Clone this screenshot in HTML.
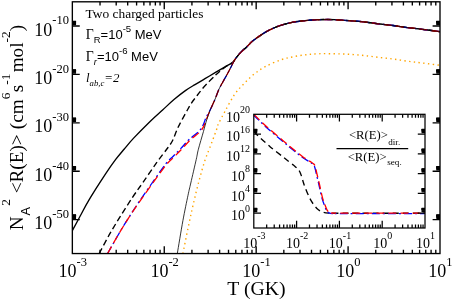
<!DOCTYPE html>
<html><head><meta charset="utf-8"><title>plot</title>
<style>html,body{margin:0;padding:0;background:#fff;}body{width:452px;height:299px;overflow:hidden;font-family:"Liberation Serif",serif;}svg{display:block;will-change:transform;opacity:0.999;}</style>
</head><body>
<svg width="452" height="299" viewBox="0 0 452 299">
<rect width="100%" height="100%" fill="#fff"/>
<defs><clipPath id="cm"><rect x="72.35" y="1.80" width="367.65" height="251.75"/></clipPath>
<clipPath id="ci"><rect x="253.80" y="114.30" width="171.20" height="113.70"/></clipPath></defs>
<g clip-path="url(#cm)" fill="none" stroke-linejoin="round">
<path d="M72.35 230.60 C73.66 228.17 77.39 221.17 80.20 216.00 C83.01 210.83 84.92 206.70 89.20 199.60 C93.48 192.50 101.45 180.13 105.90 173.40 C110.35 166.67 112.83 163.27 115.90 159.20 C118.97 155.13 121.38 152.47 124.30 149.00 C127.22 145.53 129.10 143.00 133.40 138.40 C137.70 133.80 145.23 126.13 150.10 121.40 C154.97 116.67 158.62 113.65 162.60 110.00 C166.58 106.35 170.20 102.73 174.00 99.50 C177.80 96.27 181.90 93.08 185.40 90.60 C188.90 88.12 191.73 86.58 195.00 84.60 C198.27 82.62 201.65 80.68 205.00 78.70 C208.35 76.72 211.77 74.67 215.10 72.70 C218.43 70.73 222.08 68.60 225.00 66.90 C227.92 65.20 230.83 63.88 232.60 62.50 C234.37 61.12 234.28 60.25 235.60 58.60 C236.92 56.95 238.65 54.55 240.50 52.60 C242.35 50.65 244.78 48.73 246.70 46.90 C248.62 45.07 250.05 43.28 252.00 41.60 C253.95 39.92 256.07 38.43 258.40 36.80 C260.73 35.17 263.23 33.35 266.00 31.80 C268.77 30.25 272.17 28.68 275.00 27.50 C277.83 26.32 280.17 25.55 283.00 24.70 C285.83 23.85 289.17 22.98 292.00 22.40 C294.83 21.82 297.00 21.57 300.00 21.20 C303.00 20.83 306.83 20.45 310.00 20.20 C313.17 19.95 316.17 19.82 319.00 19.70 C321.83 19.58 324.40 19.50 327.00 19.50 C329.60 19.50 330.90 19.50 334.60 19.70 C338.30 19.90 344.33 20.33 349.20 20.70 C354.07 21.07 358.93 21.38 363.80 21.90 C368.67 22.42 373.53 23.20 378.40 23.80 C383.27 24.40 388.13 24.87 393.00 25.50 C397.87 26.13 402.73 26.97 407.60 27.60 C412.47 28.23 416.80 28.62 422.20 29.30 C427.60 29.98 437.03 31.30 440.00 31.70" stroke="#000" stroke-width="1.35"/>
<path d="M99.20 253.55 C100.88 250.41 105.83 240.81 109.30 234.70 C112.77 228.59 116.18 223.05 120.00 216.90 C123.82 210.75 128.43 203.45 132.20 197.80 C135.97 192.15 138.62 188.73 142.60 183.00 C146.58 177.27 151.87 169.32 156.10 163.40 C160.33 157.48 165.25 151.32 168.00 147.50 C170.75 143.68 170.85 144.00 172.60 140.50 C174.35 137.00 176.03 131.58 178.50 126.50 C180.97 121.42 185.28 113.85 187.40 110.00 C189.52 106.15 189.68 105.68 191.20 103.40 C192.72 101.12 194.62 98.77 196.50 96.30 C198.38 93.83 200.42 91.05 202.50 88.60 C204.58 86.15 206.82 83.85 209.00 81.60 C211.18 79.35 213.83 76.78 215.60 75.10 C217.37 73.42 218.03 72.82 219.60 71.50 C221.17 70.18 222.83 68.70 225.00 67.20 C227.17 65.70 230.83 63.93 232.60 62.50 C234.37 61.07 234.28 60.25 235.60 58.60 C236.92 56.95 238.65 54.55 240.50 52.60 C242.35 50.65 244.78 48.73 246.70 46.90 C248.62 45.07 250.05 43.28 252.00 41.60 C253.95 39.92 256.07 38.43 258.40 36.80 C260.73 35.17 263.23 33.35 266.00 31.80 C268.77 30.25 272.17 28.68 275.00 27.50 C277.83 26.32 280.17 25.55 283.00 24.70 C285.83 23.85 289.17 22.98 292.00 22.40 C294.83 21.82 297.00 21.57 300.00 21.20 C303.00 20.83 306.83 20.45 310.00 20.20 C313.17 19.95 316.17 19.82 319.00 19.70 C321.83 19.58 324.40 19.50 327.00 19.50 C329.60 19.50 330.90 19.50 334.60 19.70 C338.30 19.90 344.33 20.33 349.20 20.70 C354.07 21.07 358.93 21.38 363.80 21.90 C368.67 22.42 373.53 23.20 378.40 23.80 C383.27 24.40 388.13 24.87 393.00 25.50 C397.87 26.13 402.73 26.97 407.60 27.60 C412.47 28.23 416.80 28.62 422.20 29.30 C427.60 29.98 437.03 31.30 440.00 31.70" stroke="#000" stroke-width="1.35" stroke-dasharray="6 3.3"/>
<path d="M182.90 253.55 C183.75 249.34 186.32 236.33 188.00 228.30 C189.68 220.28 191.23 213.03 193.00 205.40 C194.77 197.77 196.63 189.92 198.60 182.50 C200.57 175.08 202.63 167.48 204.80 160.90 C206.97 154.32 209.53 148.52 211.60 143.00 C213.67 137.48 216.03 131.03 217.20 127.80 C218.37 124.57 217.28 126.38 218.60 123.60 C219.92 120.82 222.45 115.93 225.10 111.10 C227.75 106.27 231.42 99.10 234.50 94.60 C237.58 90.10 240.42 87.45 243.60 84.10 C246.78 80.75 250.00 77.40 253.60 74.50 C257.20 71.60 260.65 69.15 265.20 66.70 C269.75 64.25 276.17 61.47 280.90 59.80 C285.63 58.13 289.37 57.55 293.60 56.70 C297.83 55.85 302.07 55.20 306.30 54.70 C310.53 54.20 314.28 53.85 319.00 53.70 C323.72 53.55 329.57 53.70 334.60 53.80 C339.63 53.90 344.33 54.02 349.20 54.30 C354.07 54.58 358.93 55.00 363.80 55.50 C368.67 56.00 373.53 56.72 378.40 57.30 C383.27 57.88 388.13 58.35 393.00 59.00 C397.87 59.65 402.73 60.53 407.60 61.20 C412.47 61.87 416.80 62.32 422.20 63.00 C427.60 63.68 437.03 64.92 440.00 65.30" stroke="#ffa500" stroke-width="1.4" stroke-dasharray="1.4 3.35"/>
<path d="M107.60 253.55 C109.38 250.41 114.83 240.62 118.30 234.70 C121.77 228.78 124.93 223.60 128.44 218.04 C131.96 212.49 135.43 207.20 139.37 201.37 C143.30 195.54 147.68 189.28 152.06 183.06 C156.44 176.84 162.11 168.51 165.64 164.04 C169.17 159.57 170.67 158.82 173.22 156.22 C175.76 153.61 178.22 151.22 180.90 148.40 C183.58 145.58 186.23 142.22 189.30 139.30 C192.37 136.38 196.93 133.42 199.30 130.90 C201.67 128.38 202.38 126.42 203.50 124.20 C204.62 121.98 204.85 120.05 206.00 117.60 C207.15 115.15 208.88 112.57 210.40 109.50 C211.92 106.43 213.70 102.53 215.10 99.20 C216.50 95.87 217.48 92.42 218.80 89.50 C220.12 86.58 221.53 84.37 223.00 81.70 C224.47 79.03 226.30 75.88 227.60 73.50 C228.90 71.12 229.57 69.75 230.80 67.40 C232.03 65.05 233.38 61.87 235.00 59.40 C236.62 56.93 238.55 54.68 240.50 52.60 C242.45 50.52 244.78 48.73 246.70 46.90 C248.62 45.07 250.05 43.28 252.00 41.60 C253.95 39.92 256.07 38.43 258.40 36.80 C260.73 35.17 263.23 33.35 266.00 31.80 C268.77 30.25 272.17 28.68 275.00 27.50 C277.83 26.32 280.17 25.55 283.00 24.70 C285.83 23.85 289.17 22.98 292.00 22.40 C294.83 21.82 297.00 21.57 300.00 21.20 C303.00 20.83 306.83 20.45 310.00 20.20 C313.17 19.95 316.17 19.82 319.00 19.70 C321.83 19.58 324.40 19.50 327.00 19.50 C329.60 19.50 330.90 19.50 334.60 19.70 C338.30 19.90 344.33 20.33 349.20 20.70 C354.07 21.07 358.93 21.38 363.80 21.90 C368.67 22.42 373.53 23.20 378.40 23.80 C383.27 24.40 388.13 24.87 393.00 25.50 C397.87 26.13 402.73 26.97 407.60 27.60 C412.47 28.23 416.80 28.62 422.20 29.30 C427.60 29.98 437.03 31.30 440.00 31.70" stroke="#0000ff" stroke-width="1.3" stroke-dasharray="8 3 2 3"/>
<path d="M107.60 253.55 C109.38 250.41 114.82 240.61 118.30 234.70 C121.78 228.79 124.95 223.62 128.50 218.10 C132.05 212.58 135.60 207.37 139.60 201.60 C143.60 195.83 148.05 189.65 152.50 183.50 C156.95 177.35 162.72 169.12 166.30 164.70 C169.88 160.28 171.43 159.58 174.00 157.00 C176.57 154.42 179.02 152.02 181.70 149.20 C184.38 146.38 187.03 143.02 190.10 140.10 C193.17 137.18 197.73 134.22 200.10 131.70 C202.47 129.18 203.18 127.22 204.30 125.00 C205.42 122.78 205.78 120.98 206.80 118.40 C207.82 115.82 209.02 112.70 210.40 109.50 C211.78 106.30 213.70 102.53 215.10 99.20 C216.50 95.87 217.48 92.42 218.80 89.50 C220.12 86.58 221.53 84.37 223.00 81.70 C224.47 79.03 226.30 75.88 227.60 73.50 C228.90 71.12 229.57 69.75 230.80 67.40 C232.03 65.05 233.38 61.87 235.00 59.40 C236.62 56.93 238.55 54.68 240.50 52.60 C242.45 50.52 244.78 48.73 246.70 46.90 C248.62 45.07 250.05 43.28 252.00 41.60 C253.95 39.92 256.07 38.43 258.40 36.80 C260.73 35.17 263.23 33.35 266.00 31.80 C268.77 30.25 272.17 28.68 275.00 27.50 C277.83 26.32 280.17 25.55 283.00 24.70 C285.83 23.85 289.17 22.98 292.00 22.40 C294.83 21.82 297.00 21.57 300.00 21.20 C303.00 20.83 306.83 20.45 310.00 20.20 C313.17 19.95 316.17 19.82 319.00 19.70 C321.83 19.58 324.40 19.50 327.00 19.50 C329.60 19.50 330.90 19.50 334.60 19.70 C338.30 19.90 344.33 20.33 349.20 20.70 C354.07 21.07 358.93 21.38 363.80 21.90 C368.67 22.42 373.53 23.20 378.40 23.80 C383.27 24.40 388.13 24.87 393.00 25.50 C397.87 26.13 402.73 26.97 407.60 27.60 C412.47 28.23 416.80 28.62 422.20 29.30 C427.60 29.98 437.03 31.30 440.00 31.70" stroke="#ff0000" stroke-width="1.3" stroke-dasharray="8 4"/>
<path d="M177.30 253.55 C178.23 248.08 181.12 230.41 182.90 220.70 C184.68 210.99 186.68 201.58 188.00 195.30 C189.32 189.02 189.43 188.95 190.80 183.00 C192.17 177.05 194.93 165.23 196.20 159.60 C197.47 153.97 197.20 153.85 198.40 149.20 C199.60 144.55 202.00 136.65 203.40 131.70 C204.80 126.75 205.63 123.20 206.80 119.50 C207.97 115.80 209.02 112.88 210.40 109.50 C211.78 106.12 213.70 102.53 215.10 99.20 C216.50 95.87 217.48 92.42 218.80 89.50 C220.12 86.58 221.53 84.37 223.00 81.70 C224.47 79.03 226.30 75.88 227.60 73.50 C228.90 71.12 229.57 69.75 230.80 67.40 C232.03 65.05 233.38 61.87 235.00 59.40 C236.62 56.93 238.55 54.68 240.50 52.60 C242.45 50.52 244.78 48.73 246.70 46.90 C248.62 45.07 250.05 43.28 252.00 41.60 C253.95 39.92 256.07 38.43 258.40 36.80 C260.73 35.17 263.23 33.35 266.00 31.80 C268.77 30.25 272.17 28.68 275.00 27.50 C277.83 26.32 280.17 25.55 283.00 24.70 C285.83 23.85 289.17 22.98 292.00 22.40 C294.83 21.82 297.00 21.57 300.00 21.20 C303.00 20.83 306.83 20.45 310.00 20.20 C313.17 19.95 316.17 19.82 319.00 19.70 C321.83 19.58 324.40 19.50 327.00 19.50 C329.60 19.50 330.90 19.50 334.60 19.70 C338.30 19.90 344.33 20.33 349.20 20.70 C354.07 21.07 358.93 21.38 363.80 21.90 C368.67 22.42 373.53 23.20 378.40 23.80 C383.27 24.40 388.13 24.87 393.00 25.50 C397.87 26.13 402.73 26.97 407.60 27.60 C412.47 28.23 416.80 28.62 422.20 29.30 C427.60 29.98 437.03 31.30 440.00 31.70" stroke="#000" stroke-width="0.8"/>
</g>
<rect x="253.80" y="114.30" width="171.20" height="113.70" fill="#fff"/>
<g clip-path="url(#ci)" fill="none" stroke-linejoin="round">
<path d="M253.80 131.50 C254.43 132.15 254.85 132.83 257.60 135.40 C260.35 137.97 266.05 143.30 270.30 146.90 C274.55 150.50 279.78 154.37 283.10 157.00 C286.42 159.63 288.30 161.22 290.20 162.70 C292.10 164.18 293.23 164.83 294.50 165.90 C295.77 166.97 296.90 168.08 297.80 169.10 C298.70 170.12 299.27 170.78 299.90 172.00 C300.53 173.22 301.02 174.65 301.60 176.40 C302.18 178.15 302.77 180.55 303.40 182.50 C304.03 184.45 304.22 185.25 305.40 188.10 C306.58 190.95 308.58 196.20 310.50 199.60 C312.42 203.00 314.78 206.38 316.90 208.50 C319.02 210.62 321.02 211.52 323.20 212.30 C325.38 213.08 327.20 213.05 330.00 213.20 C332.80 213.35 324.17 213.20 340.00 213.20 C355.83 213.20 410.83 213.20 425.00 213.20" stroke="#000" stroke-width="1.35" stroke-dasharray="6 4"/>
<path d="M253.80 114.30 C255.95 116.37 261.77 122.27 266.70 126.70 C271.63 131.13 279.68 137.73 283.40 140.90 C287.12 144.07 285.83 143.12 289.00 145.70 C292.17 148.28 298.90 153.78 302.40 156.40 C305.90 159.02 308.10 160.13 310.00 161.40 C311.90 162.67 312.90 163.03 313.80 164.00 C314.70 164.97 314.85 165.45 315.40 167.20 C315.95 168.95 316.60 172.37 317.10 174.50 C317.60 176.63 318.00 178.33 318.40 180.00 C318.80 181.67 318.83 181.60 319.50 184.50 C320.17 187.40 321.48 193.98 322.40 197.40 C323.32 200.82 324.22 202.88 325.00 205.00 C325.78 207.12 326.38 208.88 327.10 210.10 C327.82 211.32 328.32 211.82 329.30 212.30 C330.28 212.78 331.22 212.87 333.00 213.00 C334.78 213.13 324.67 213.08 340.00 213.10 C355.33 213.12 410.83 213.10 425.00 213.10" stroke="#0000ff" stroke-width="1.3" stroke-dasharray="8 3 2 3" transform="translate(-0.5,0.5)"/>
<path d="M253.80 114.30 C255.95 116.37 261.77 122.27 266.70 126.70 C271.63 131.13 279.68 137.73 283.40 140.90 C287.12 144.07 285.83 143.12 289.00 145.70 C292.17 148.28 298.90 153.78 302.40 156.40 C305.90 159.02 308.10 160.13 310.00 161.40 C311.90 162.67 312.90 163.03 313.80 164.00 C314.70 164.97 314.85 165.45 315.40 167.20 C315.95 168.95 316.60 172.37 317.10 174.50 C317.60 176.63 318.00 178.33 318.40 180.00 C318.80 181.67 318.83 181.60 319.50 184.50 C320.17 187.40 321.48 193.98 322.40 197.40 C323.32 200.82 324.22 202.88 325.00 205.00 C325.78 207.12 326.38 208.88 327.10 210.10 C327.82 211.32 328.32 211.82 329.30 212.30 C330.28 212.78 331.22 212.87 333.00 213.00 C334.78 213.13 324.67 213.08 340.00 213.10 C355.33 213.12 410.83 213.10 425.00 213.10" stroke="#ff0000" stroke-width="1.3" stroke-dasharray="8 4"/>
</g>
<g stroke="#000" stroke-width="1.35" fill="none" stroke-linecap="butt">
<rect x="72.35" y="1.80" width="367.65" height="251.75"/>
<path d="M100.02 253.55v-3.70M100.02 1.80v3.70"/>
<path d="M116.20 253.55v-3.70M116.20 1.80v3.70"/>
<path d="M127.69 253.55v-3.70M127.69 1.80v3.70"/>
<path d="M136.59 253.55v-3.70M136.59 1.80v3.70"/>
<path d="M143.87 253.55v-3.70M143.87 1.80v3.70"/>
<path d="M150.03 253.55v-3.70M150.03 1.80v3.70"/>
<path d="M155.36 253.55v-3.70M155.36 1.80v3.70"/>
<path d="M160.06 253.55v-3.70M160.06 1.80v3.70"/>
<path d="M164.26 253.55v-7.40M164.26 1.80v7.40"/>
<path d="M191.93 253.55v-3.70M191.93 1.80v3.70"/>
<path d="M208.12 253.55v-3.70M208.12 1.80v3.70"/>
<path d="M219.60 253.55v-3.70M219.60 1.80v3.70"/>
<path d="M228.51 253.55v-3.70M228.51 1.80v3.70"/>
<path d="M235.78 253.55v-3.70M235.78 1.80v3.70"/>
<path d="M241.94 253.55v-3.70M241.94 1.80v3.70"/>
<path d="M247.27 253.55v-3.70M247.27 1.80v3.70"/>
<path d="M251.97 253.55v-3.70M251.97 1.80v3.70"/>
<path d="M256.17 253.55v-7.40M256.17 1.80v7.40"/>
<path d="M283.84 253.55v-3.70M283.84 1.80v3.70"/>
<path d="M300.03 253.55v-3.70M300.03 1.80v3.70"/>
<path d="M311.51 253.55v-3.70M311.51 1.80v3.70"/>
<path d="M320.42 253.55v-3.70M320.42 1.80v3.70"/>
<path d="M327.70 253.55v-3.70M327.70 1.80v3.70"/>
<path d="M333.85 253.55v-3.70M333.85 1.80v3.70"/>
<path d="M339.18 253.55v-3.70M339.18 1.80v3.70"/>
<path d="M343.88 253.55v-3.70M343.88 1.80v3.70"/>
<path d="M348.09 253.55v-7.40M348.09 1.80v7.40"/>
<path d="M375.76 253.55v-3.70M375.76 1.80v3.70"/>
<path d="M391.94 253.55v-3.70M391.94 1.80v3.70"/>
<path d="M403.42 253.55v-3.70M403.42 1.80v3.70"/>
<path d="M412.33 253.55v-3.70M412.33 1.80v3.70"/>
<path d="M419.61 253.55v-3.70M419.61 1.80v3.70"/>
<path d="M425.76 253.55v-3.70M425.76 1.80v3.70"/>
<path d="M431.09 253.55v-3.70M431.09 1.80v3.70"/>
<path d="M435.79 253.55v-3.70M435.79 1.80v3.70"/>
<path d="M72.35 219.66h7.40M440.00 219.66h-7.40"/>
<path d="M72.35 171.25h7.40M440.00 171.25h-7.40"/>
<path d="M72.35 122.83h7.40M440.00 122.83h-7.40"/>
<path d="M72.35 74.42h7.40M440.00 74.42h-7.40"/>
<path d="M72.35 26.01h7.40M440.00 26.01h-7.40"/>
<path d="M72.35 218.20h3.70M440.00 218.20h-3.70"/>
<path d="M72.35 217.35h3.70M440.00 217.35h-3.70"/>
<path d="M72.35 216.75h3.70M440.00 216.75h-3.70"/>
<path d="M72.35 216.28h3.70M440.00 216.28h-3.70"/>
<path d="M72.35 215.89h3.70M440.00 215.89h-3.70"/>
<path d="M72.35 215.57h3.70M440.00 215.57h-3.70"/>
<path d="M72.35 215.29h3.70M440.00 215.29h-3.70"/>
<path d="M72.35 215.04h3.70M440.00 215.04h-3.70"/>
<path d="M72.35 169.79h3.70M440.00 169.79h-3.70"/>
<path d="M72.35 168.94h3.70M440.00 168.94h-3.70"/>
<path d="M72.35 168.33h3.70M440.00 168.33h-3.70"/>
<path d="M72.35 167.86h3.70M440.00 167.86h-3.70"/>
<path d="M72.35 167.48h3.70M440.00 167.48h-3.70"/>
<path d="M72.35 167.16h3.70M440.00 167.16h-3.70"/>
<path d="M72.35 166.87h3.70M440.00 166.87h-3.70"/>
<path d="M72.35 166.63h3.70M440.00 166.63h-3.70"/>
<path d="M72.35 121.38h3.70M440.00 121.38h-3.70"/>
<path d="M72.35 120.52h3.70M440.00 120.52h-3.70"/>
<path d="M72.35 119.92h3.70M440.00 119.92h-3.70"/>
<path d="M72.35 119.45h3.70M440.00 119.45h-3.70"/>
<path d="M72.35 119.07h3.70M440.00 119.07h-3.70"/>
<path d="M72.35 118.74h3.70M440.00 118.74h-3.70"/>
<path d="M72.35 118.46h3.70M440.00 118.46h-3.70"/>
<path d="M72.35 118.21h3.70M440.00 118.21h-3.70"/>
<path d="M72.35 72.96h3.70M440.00 72.96h-3.70"/>
<path d="M72.35 72.11h3.70M440.00 72.11h-3.70"/>
<path d="M72.35 71.51h3.70M440.00 71.51h-3.70"/>
<path d="M72.35 71.04h3.70M440.00 71.04h-3.70"/>
<path d="M72.35 70.65h3.70M440.00 70.65h-3.70"/>
<path d="M72.35 70.33h3.70M440.00 70.33h-3.70"/>
<path d="M72.35 70.05h3.70M440.00 70.05h-3.70"/>
<path d="M72.35 69.80h3.70M440.00 69.80h-3.70"/>
<path d="M72.35 24.55h3.70M440.00 24.55h-3.70"/>
<path d="M72.35 23.70h3.70M440.00 23.70h-3.70"/>
<path d="M72.35 23.09h3.70M440.00 23.09h-3.70"/>
<path d="M72.35 22.62h3.70M440.00 22.62h-3.70"/>
<path d="M72.35 22.24h3.70M440.00 22.24h-3.70"/>
<path d="M72.35 21.92h3.70M440.00 21.92h-3.70"/>
<path d="M72.35 21.63h3.70M440.00 21.63h-3.70"/>
<path d="M72.35 21.39h3.70M440.00 21.39h-3.70"/>
</g>
<g stroke="#000" stroke-width="1.25" fill="none">
<rect x="253.80" y="114.30" width="171.20" height="113.70"/>
<path d="M266.68 228.00v-3.40M266.68 114.30v3.40"/>
<path d="M274.22 228.00v-3.40M274.22 114.30v3.40"/>
<path d="M279.57 228.00v-3.40M279.57 114.30v3.40"/>
<path d="M283.72 228.00v-3.40M283.72 114.30v3.40"/>
<path d="M287.10 228.00v-3.40M287.10 114.30v3.40"/>
<path d="M289.97 228.00v-3.40M289.97 114.30v3.40"/>
<path d="M292.45 228.00v-3.40M292.45 114.30v3.40"/>
<path d="M294.64 228.00v-3.40M294.64 114.30v3.40"/>
<path d="M296.60 228.00v-7.20M296.60 114.30v7.20"/>
<path d="M309.48 228.00v-3.40M309.48 114.30v3.40"/>
<path d="M317.02 228.00v-3.40M317.02 114.30v3.40"/>
<path d="M322.37 228.00v-3.40M322.37 114.30v3.40"/>
<path d="M326.52 228.00v-3.40M326.52 114.30v3.40"/>
<path d="M329.90 228.00v-3.40M329.90 114.30v3.40"/>
<path d="M332.77 228.00v-3.40M332.77 114.30v3.40"/>
<path d="M335.25 228.00v-3.40M335.25 114.30v3.40"/>
<path d="M337.44 228.00v-3.40M337.44 114.30v3.40"/>
<path d="M339.40 228.00v-7.20M339.40 114.30v7.20"/>
<path d="M352.28 228.00v-3.40M352.28 114.30v3.40"/>
<path d="M359.82 228.00v-3.40M359.82 114.30v3.40"/>
<path d="M365.17 228.00v-3.40M365.17 114.30v3.40"/>
<path d="M369.32 228.00v-3.40M369.32 114.30v3.40"/>
<path d="M372.70 228.00v-3.40M372.70 114.30v3.40"/>
<path d="M375.57 228.00v-3.40M375.57 114.30v3.40"/>
<path d="M378.05 228.00v-3.40M378.05 114.30v3.40"/>
<path d="M380.24 228.00v-3.40M380.24 114.30v3.40"/>
<path d="M382.20 228.00v-7.20M382.20 114.30v7.20"/>
<path d="M395.08 228.00v-3.40M395.08 114.30v3.40"/>
<path d="M402.62 228.00v-3.40M402.62 114.30v3.40"/>
<path d="M407.97 228.00v-3.40M407.97 114.30v3.40"/>
<path d="M412.12 228.00v-3.40M412.12 114.30v3.40"/>
<path d="M415.50 228.00v-3.40M415.50 114.30v3.40"/>
<path d="M418.37 228.00v-3.40M418.37 114.30v3.40"/>
<path d="M420.85 228.00v-3.40M420.85 114.30v3.40"/>
<path d="M423.04 228.00v-3.40M423.04 114.30v3.40"/>
<path d="M253.80 213.17h7.20M425.00 213.17h-7.20"/>
<path d="M253.80 193.40h7.20M425.00 193.40h-7.20"/>
<path d="M253.80 173.62h7.20M425.00 173.62h-7.20"/>
<path d="M253.80 153.85h7.20M425.00 153.85h-7.20"/>
<path d="M253.80 134.07h7.20M425.00 134.07h-7.20"/>
<path d="M253.80 211.68h3.40M425.00 211.68h-3.40"/>
<path d="M253.80 210.81h3.40M425.00 210.81h-3.40"/>
<path d="M253.80 210.19h3.40M425.00 210.19h-3.40"/>
<path d="M253.80 209.71h3.40M425.00 209.71h-3.40"/>
<path d="M253.80 209.32h3.40M425.00 209.32h-3.40"/>
<path d="M253.80 208.99h3.40M425.00 208.99h-3.40"/>
<path d="M253.80 208.71h3.40M425.00 208.71h-3.40"/>
<path d="M253.80 208.45h3.40M425.00 208.45h-3.40"/>
<path d="M253.80 191.91h3.40M425.00 191.91h-3.40"/>
<path d="M253.80 191.04h3.40M425.00 191.04h-3.40"/>
<path d="M253.80 190.42h3.40M425.00 190.42h-3.40"/>
<path d="M253.80 189.94h3.40M425.00 189.94h-3.40"/>
<path d="M253.80 189.55h3.40M425.00 189.55h-3.40"/>
<path d="M253.80 189.22h3.40M425.00 189.22h-3.40"/>
<path d="M253.80 188.93h3.40M425.00 188.93h-3.40"/>
<path d="M253.80 188.68h3.40M425.00 188.68h-3.40"/>
<path d="M253.80 172.13h3.40M425.00 172.13h-3.40"/>
<path d="M253.80 171.26h3.40M425.00 171.26h-3.40"/>
<path d="M253.80 170.65h3.40M425.00 170.65h-3.40"/>
<path d="M253.80 170.17h3.40M425.00 170.17h-3.40"/>
<path d="M253.80 169.77h3.40M425.00 169.77h-3.40"/>
<path d="M253.80 169.44h3.40M425.00 169.44h-3.40"/>
<path d="M253.80 169.16h3.40M425.00 169.16h-3.40"/>
<path d="M253.80 168.90h3.40M425.00 168.90h-3.40"/>
<path d="M253.80 152.36h3.40M425.00 152.36h-3.40"/>
<path d="M253.80 151.49h3.40M425.00 151.49h-3.40"/>
<path d="M253.80 150.87h3.40M425.00 150.87h-3.40"/>
<path d="M253.80 150.39h3.40M425.00 150.39h-3.40"/>
<path d="M253.80 150.00h3.40M425.00 150.00h-3.40"/>
<path d="M253.80 149.67h3.40M425.00 149.67h-3.40"/>
<path d="M253.80 149.38h3.40M425.00 149.38h-3.40"/>
<path d="M253.80 149.13h3.40M425.00 149.13h-3.40"/>
<path d="M253.80 132.59h3.40M425.00 132.59h-3.40"/>
<path d="M253.80 131.72h3.40M425.00 131.72h-3.40"/>
<path d="M253.80 131.10h3.40M425.00 131.10h-3.40"/>
<path d="M253.80 130.62h3.40M425.00 130.62h-3.40"/>
<path d="M253.80 130.23h3.40M425.00 130.23h-3.40"/>
<path d="M253.80 129.90h3.40M425.00 129.90h-3.40"/>
<path d="M253.80 129.61h3.40M425.00 129.61h-3.40"/>
<path d="M253.80 129.36h3.40M425.00 129.36h-3.40"/>
</g>
<g fill="#000">
<text x="72.75" y="276.80" font-family="Liberation Serif, serif" font-size="18.00" text-anchor="middle">10<tspan font-size="12.50" dy="-11.20">-3</tspan></text>
<text x="164.66" y="276.80" font-family="Liberation Serif, serif" font-size="18.00" text-anchor="middle">10<tspan font-size="12.50" dy="-11.20">-2</tspan></text>
<text x="256.57" y="276.80" font-family="Liberation Serif, serif" font-size="18.00" text-anchor="middle">10<tspan font-size="12.50" dy="-11.20">-1</tspan></text>
<text x="348.49" y="276.80" font-family="Liberation Serif, serif" font-size="18.00" text-anchor="middle">10<tspan font-size="12.50" dy="-11.20">0</tspan></text>
<text x="440.40" y="276.80" font-family="Liberation Serif, serif" font-size="18.00" text-anchor="middle">10<tspan font-size="12.50" dy="-11.20">1</tspan></text>
<text x="69.00" y="229.26" font-family="Liberation Serif, serif" font-size="18.00" text-anchor="end">10<tspan font-size="12.50" dy="-11.20">-50</tspan></text>
<text x="69.00" y="180.85" font-family="Liberation Serif, serif" font-size="18.00" text-anchor="end">10<tspan font-size="12.50" dy="-11.20">-40</tspan></text>
<text x="69.00" y="132.43" font-family="Liberation Serif, serif" font-size="18.00" text-anchor="end">10<tspan font-size="12.50" dy="-11.20">-30</tspan></text>
<text x="69.00" y="84.02" font-family="Liberation Serif, serif" font-size="18.00" text-anchor="end">10<tspan font-size="12.50" dy="-11.20">-20</tspan></text>
<text x="69.00" y="35.61" font-family="Liberation Serif, serif" font-size="18.00" text-anchor="end">10<tspan font-size="12.50" dy="-11.20">-10</tspan></text>
<text x="254.40" y="247.70" font-family="Liberation Serif, serif" font-size="14.00" text-anchor="middle">10<tspan font-size="10.00" dy="-8.70">-3</tspan></text>
<text x="297.20" y="247.70" font-family="Liberation Serif, serif" font-size="14.00" text-anchor="middle">10<tspan font-size="10.00" dy="-8.70">-2</tspan></text>
<text x="340.00" y="247.70" font-family="Liberation Serif, serif" font-size="14.00" text-anchor="middle">10<tspan font-size="10.00" dy="-8.70">-1</tspan></text>
<text x="382.80" y="247.70" font-family="Liberation Serif, serif" font-size="14.00" text-anchor="middle">10<tspan font-size="10.00" dy="-8.70">0</tspan></text>
<text x="425.60" y="247.70" font-family="Liberation Serif, serif" font-size="14.00" text-anchor="middle">10<tspan font-size="10.00" dy="-8.70">1</tspan></text>
<text x="250.00" y="220.37" font-family="Liberation Serif, serif" font-size="14.00" text-anchor="end">10<tspan font-size="10.00" dy="-8.70">0</tspan></text>
<text x="250.00" y="200.60" font-family="Liberation Serif, serif" font-size="14.00" text-anchor="end">10<tspan font-size="10.00" dy="-8.70">4</tspan></text>
<text x="250.00" y="180.82" font-family="Liberation Serif, serif" font-size="14.00" text-anchor="end">10<tspan font-size="10.00" dy="-8.70">8</tspan></text>
<text x="250.00" y="161.05" font-family="Liberation Serif, serif" font-size="14.00" text-anchor="end">10<tspan font-size="10.00" dy="-8.70">12</tspan></text>
<text x="250.00" y="141.27" font-family="Liberation Serif, serif" font-size="14.00" text-anchor="end">10<tspan font-size="10.00" dy="-8.70">16</tspan></text>
<text x="250.00" y="121.50" font-family="Liberation Serif, serif" font-size="14.00" text-anchor="end">10<tspan font-size="10.00" dy="-8.70">20</tspan></text>
<text x="256.5" y="294.5" font-family="Liberation Serif, serif" font-size="19.8" text-anchor="middle">T (GK)</text>
<text transform="translate(23.2,127.6) rotate(-90)" font-family="Liberation Serif, serif" font-size="19.2" text-anchor="middle">N<tspan font-family="Liberation Sans, sans-serif" font-size="12.8" dy="6.4" dx="1.0">A</tspan><tspan font-size="13.4" dy="-19.4" dx="1.2">2</tspan><tspan dy="13" dx="5.6">&lt;R(E)&gt;</tspan><tspan dx="5.2">(cm</tspan><tspan font-size="13.4" dy="-13">6</tspan><tspan dy="13" dx="0.5">s</tspan><tspan font-size="13.4" dy="-13">-1</tspan><tspan dy="13" dx="1.2">mol</tspan><tspan font-size="13.4" dy="-13">-2</tspan><tspan dy="13">)</tspan></text>
<text x="85.6" y="17.6" font-family="Liberation Serif, serif" font-size="13.4">Two charged particles</text>
<text x="85.8" y="39.4" font-family="Liberation Sans, sans-serif" font-size="13"><tspan font-family="Liberation Serif, serif" font-size="13.8">Γ</tspan><tspan font-size="9.4" dy="3.6">R</tspan><tspan dy="-3.6">=10</tspan><tspan font-size="9.6" dy="-7">-5</tspan><tspan dy="7"> MeV</tspan></text>
<text x="85.8" y="61.4" font-family="Liberation Sans, sans-serif" font-size="13"><tspan font-family="Liberation Serif, serif" font-size="13.8">Γ</tspan><tspan font-size="9.4" dy="3.6" font-style="italic">r</tspan><tspan dy="-3.6">=10</tspan><tspan font-size="9.6" dy="-7">-6</tspan><tspan dy="7"> MeV</tspan></text>
<text x="86.0" y="82.3" font-family="Liberation Serif, serif" font-size="12.9" font-style="italic">l<tspan font-size="8.7" dy="3.4">ab,c</tspan><tspan dy="-3.4">=2</tspan></text>
<text x="348.9" y="139" font-family="Liberation Serif, serif" font-size="12.7">&lt;R(E)&gt;<tspan font-size="9.1" dy="5.7" dx="0.4">dir.</tspan></text>
<text x="347.7" y="160.6" font-family="Liberation Serif, serif" font-size="12.7">&lt;R(E)&gt;<tspan font-size="9.1" dy="4.6" dx="0.6">seq.</tspan></text>
</g>
<path d="M336.5 148.65H408.2" stroke="#000" stroke-width="1.1"/>
</svg>
</body></html>
